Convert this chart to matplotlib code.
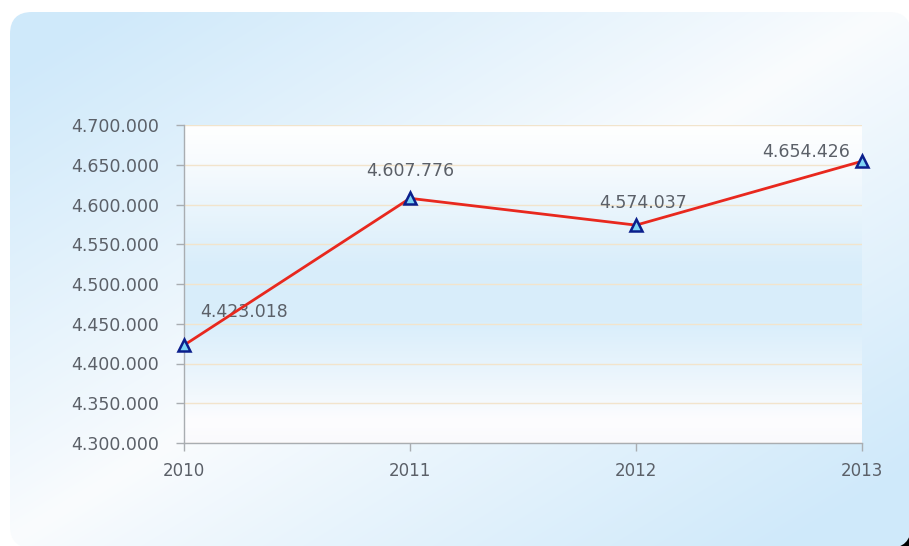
import numpy as np
import matplotlib
matplotlib.use("Agg")
import matplotlib.pyplot as plt
from matplotlib.patches import FancyBboxPatch, Rectangle
from matplotlib.colors import to_rgb
from matplotlib.ticker import FuncFormatter

# ---- data ----
years = [2010, 2011, 2012, 2013]
values = [4423018, 4607776, 4574037, 4654426]
value_labels = ["4.423.018", "4.607.776", "4.574.037", "4.654.426"]
y_ticks = [4300000, 4350000, 4400000, 4450000, 4500000, 4550000, 4600000, 4650000, 4700000]

# label placement relative to each point, in pixels
label_offsets = [(60, 33), (0, 27), (7, 22), (-56, 9)]

W, H = 909, 546
fig = plt.figure(figsize=(W / 100, H / 100), dpi=100)
fig.patch.set_facecolor("white")

# ---- outer rounded panel with diagonal gradient ----
bg = fig.add_axes([0, 0, 1, 1], zorder=0)
bg.set_xlim(0, W)
bg.set_ylim(H, 0)
bg.axis("off")
bg.add_patch(Rectangle((880, 515), 40, 40, color="black", zorder=-1))

yy, xx = np.mgrid[0:H, 0:W]
u = xx / W
v = yy / H
d = np.abs(u + v - 1.0)
w = np.clip(d * 1.15, 0, 1) ** 0.9
c_light = np.array(to_rgb("#fafcfe"))
c_blue = np.array(to_rgb("#cfe9fa"))
img = c_light * (1 - w[..., None]) + c_blue * w[..., None]
im = bg.imshow(img, extent=(0, W, H, 0), origin="upper", interpolation="bilinear", zorder=0)
panel = FancyBboxPatch((10, 12), W - 8, H - 10,
                       boxstyle="round,pad=0,rounding_size=22",
                       transform=bg.transData, facecolor="none", edgecolor="none")
bg.add_patch(panel)
im.set_clip_path(panel)

# ---- plot area ----
ax = fig.add_axes([184 / W, 1 - 443 / H, (862 - 184) / W, (443 - 125) / H], zorder=1)
ax.set_facecolor("none")

stops = [(0.0, "#ffffff"), (0.12, "#f7fbfe"), (0.45, "#d8edfa"), (0.62, "#d9eefb"),
         (0.85, "#f2f8fd"), (0.93, "#fdfdff"), (1.0, "#fafafd")]
t = np.linspace(0, 1, 400)
cols = np.array([to_rgb(c) for _, c in stops])
pos = np.array([p for p, _ in stops])
grad = np.stack([np.interp(t, pos, cols[:, k]) for k in range(3)], axis=1)
grad = np.repeat(grad[:, None, :], 4, axis=1)
ax.imshow(grad, extent=(0, 1, 0, 1), transform=ax.transAxes, aspect="auto",
          origin="upper", zorder=0, interpolation="bilinear")

ax.plot(years, values, color="#e8281e", lw=2, marker="^", ms=8.5,
        mfc="#7dd4f4", mec="#0b1f8c", mew=1.8, clip_on=False, zorder=4)

for x, y, lbl, off in zip(years, values, value_labels, label_offsets):
    ax.annotate(lbl, (x, y), xytext=off, textcoords="offset pixels",
                ha="center", va="center", fontsize=12.5, color="#5b6068", zorder=3)

ax.set_xlim(2010, 2013)
ax.set_ylim(4300000, 4700000)
ax.set_xticks(years)
ax.set_xticklabels([str(y) for y in years])
ax.set_yticks(y_ticks)
ax.yaxis.set_major_formatter(FuncFormatter(lambda val, _: f"{int(val):,}".replace(",", ".")))

ax.yaxis.grid(True, color="#f2e4cc", lw=1, zorder=1)
ax.xaxis.grid(False)
for side in ("top", "right"):
    ax.spines[side].set_visible(False)
for side in ("left", "bottom"):
    ax.spines[side].set_color("#a9adb1")
    ax.spines[side].set_linewidth(1)

ax.tick_params(axis="y", length=6, width=1, color="#a9adb1", pad=12,
               labelsize=12.5, labelcolor="#5b6068")
ax.tick_params(axis="x", length=6, width=1, color="#a9adb1", pad=8,
               labelsize=12, labelcolor="#5b6068")

fig.savefig("out.png", dpi=100)
